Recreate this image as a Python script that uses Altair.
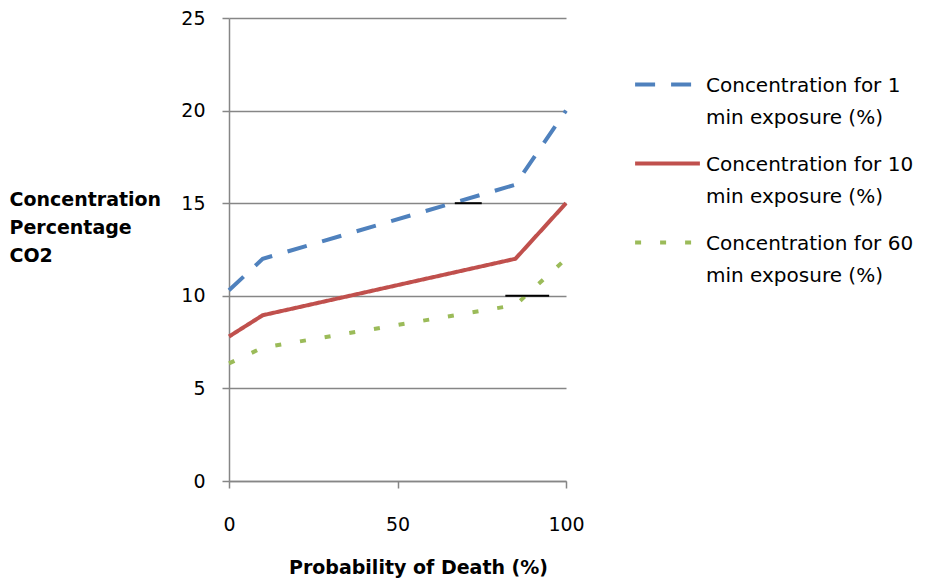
import altair as alt
import pandas as pd

# ---- data ----
prob_death = [0, 10, 85, 100]
conc_1min = [10.3, 12.0, 16.0, 20.0]
conc_10min = [7.8, 8.95, 12.0, 15.0]
conc_60min = [6.35, 7.2, 9.5, 12.0]
series_names = [
    "Concentration for 1 min exposure (%)",
    "Concentration for 10 min exposure (%)",
    "Concentration for 60 min exposure  (%)",
]
series_colors = ["#4F81BD", "#C0504D", "#9BBB59"]
series_dashes = [[20, 16], [1, 0], [6, 19]]

# small black marks sitting on the gridlines in the original
mark_x1 = [67, 82]
mark_x2 = [75, 95]
mark_y = [15, 10]

x_ticks = [0, 50, 100]
y_ticks = [0, 5, 10, 15, 20, 25]

rows = []
for name, vals in zip(series_names, [conc_1min, conc_10min, conc_60min]):
    for x, y in zip(prob_death, vals):
        rows.append({"series": name, "x": x, "y": y})
df = pd.DataFrame(rows)
marks_df = pd.DataFrame({"x1": mark_x1, "x2": mark_x2, "y": mark_y})

FONT = "DejaVu Sans"

x_enc = alt.X(
    "x:Q",
    scale=alt.Scale(domain=[0, 100], nice=False, zero=False),
    axis=alt.Axis(
        values=x_ticks,
        title="Probability of Death (%)",
        grid=False,
        titleX=189,
        titleY=92,
        titleBaseline="alphabetic",
        labelPadding=20,
        labelFlush=False,
    ),
)
y_enc = alt.Y(
    "y:Q",
    scale=alt.Scale(domain=[0, 25], nice=False),
    axis=alt.Axis(
        values=y_ticks,
        title=["Concentration", "Percentage", "CO2"],
        titleAngle=0,
        titleAlign="left",
        titleBaseline="top",
        titleX=-220,
        titleY=172,
        titleLineHeight=28,
        labelPadding=17,
        labelOffset=-7,
        labelFlush=False,
        grid=True,
    ),
)

lines = alt.Chart(df).mark_line(strokeWidth=4).encode(
    x=x_enc,
    y=y_enc,
    color=alt.Color(
        "series:N",
        scale=alt.Scale(domain=series_names, range=series_colors),
        legend=alt.Legend(
            title=None,
            orient="none",
            legendX=404,
            legendY=32,
            symbolType="stroke",
            symbolSize=4200,
            symbolStrokeWidth=4,
            labelFont=FONT,
            labelFontSize=20,
            labelColor="black",
            labelOffset=4,
            labelLimit=400,
            labelBaseline="alphabetic",
            rowPadding=1,
            labelExpr="[substring(datum.label, 0, indexof(datum.label, ' min')), substring(datum.label, indexof(datum.label, ' min') + 1)]",
        ),
    ),
    strokeDash=alt.StrokeDash(
        "series:N",
        scale=alt.Scale(domain=series_names, range=series_dashes),
        legend=None,
    ),
    order=alt.Order("x:Q"),
)

black_marks = alt.Chart(marks_df).mark_rule(color="black", strokeWidth=2).encode(
    x="x1:Q", x2="x2:Q", y="y:Q"
)

chart = (
    alt.layer(lines, black_marks)
    .properties(
        width=337,
        height=463,
        autosize=alt.AutoSizeParams(type="none"),
        padding={"left": 221, "top": 10, "right": 359, "bottom": 101},
    )
    .configure(
        style={"guide-label": {"lineHeight": 32, "dy": 7}},
        view=alt.ViewConfig(stroke=None),
        axis=alt.AxisConfig(
            labelFont=FONT,
            labelFontSize=19,
            labelColor="black",
            titleFont=FONT,
            titleFontSize=19,
            titleFontWeight="bold",
            titleColor="black",
            domainColor="#868686",
            domainWidth=1.5,
            tickColor="#868686",
            tickWidth=1.5,
            tickSize=7,
            gridColor="#868686",
            gridWidth=1.5,
        ),
    )
)

chart.save("out.html", embed_options={"renderer": "svg", "actions": False})
